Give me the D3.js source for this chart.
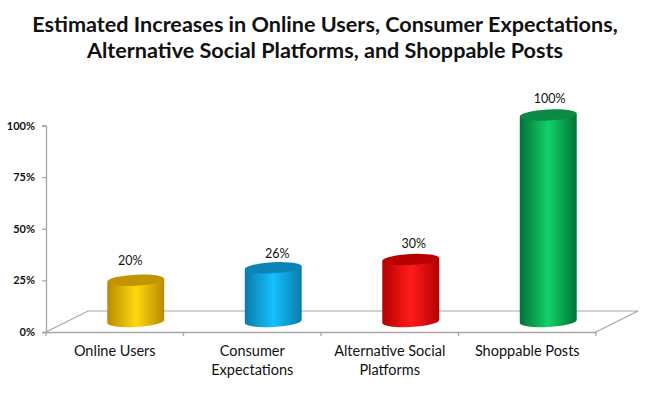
<!DOCTYPE html>
<html lang="en">
<head>
<meta charset="utf-8">
<script src="https://d3js.org/d3.v7.min.js"></script>
<style>
  html, body { margin: 0; padding: 0; background: #fff; }
  text { font-family: Lato, "Open Sans", sans-serif; fill: #111; }
</style>
</head>
<body>
<script>
// Data
const categories = ["Online Users", "Consumer Expectations", "Alternative Social Platforms", "Shoppable Posts"];
const categoryLines = [["Online Users"], ["Consumer", "Expectations"], ["Alternative Social", "Platforms"], ["Shoppable Posts"]];
const values = [20, 26, 30, 100];
const valueLabels = ["20%", "26%", "30%", "100%"];
const yTicks = [0, 25, 50, 75, 100];
const titleLines = ["Estimated Increases in Online Users, Consumer Expectations,", "Alternative Social Platforms, and Shoppable Posts"];

// Colours: edge, middle, top cap
const palette = [
  ["#b88a00", "#ffd90c", "#c29500"],
  ["#0b7ba8", "#12c2ff", "#0a84b6"],
  ["#b50000", "#ff1c1c", "#b80000"],
  ["#007236", "#12d169", "#0a8a45"]
];

// Layout
const width = 650, height = 394;
const plotLeft = 46, plotRight = 596, plotTop = 125.5, plotBottom = 332;
const depthX = 42, depthY = 21;
const rx = 28.5, ry = 5.5, tilt = 3;
const labelNudge = [[-5.5, -20], [4, -14.5], [3, -16], [1.5, -16.5]];

const svg = d3.select("body").append("svg")
  .attr("width", width)
  .attr("height", height)
  .style("display", "block");

const x = d3.scaleBand().domain(categories).range([plotLeft, plotRight]);
const y = d3.scaleLinear().domain([0, 100]).range([plotBottom, plotTop]);

// Title
svg.append("g").selectAll("text")
  .data(titleLines)
  .enter().append("text")
  .attr("x", 325)
  .attr("y", (d, i) => 32 + i * 25.5)
  .attr("text-anchor", "middle")
  .style("font-size", "21.6px")
  .style("font-weight", 700)
  .text(d => d);

// Floor
svg.append("path")
  .attr("d", d3.line()([
    [plotLeft, plotBottom],
    [plotLeft + depthX, plotBottom - depthY],
    [plotRight + depthX, plotBottom - depthY],
    [plotRight, plotBottom]
  ]))
  .attr("fill", "none")
  .attr("stroke", "#a6a6a6")
  .attr("stroke-width", 1.2);

// Axes
const yAxis = svg.append("g")
  .attr("transform", `translate(${plotLeft},0)`)
  .call(d3.axisLeft(y).tickValues(yTicks).tickFormat(d => d + "%").tickSize(4).tickPadding(7));
yAxis.selectAll("text").style("font-size", "11px").style("font-weight", 700);

const xAxis = svg.append("g")
  .attr("transform", `translate(0,${plotBottom})`)
  .call(d3.axisBottom(x).tickValues([]).tickSize(0));
xAxis.selectAll(".boundary")
  .data(d3.range(categories.length + 1))
  .enter().append("line")
  .attr("class", "boundary")
  .attr("x1", i => plotLeft + i * x.step())
  .attr("x2", i => plotLeft + i * x.step())
  .attr("y1", 0)
  .attr("y2", 4);

svg.selectAll(".domain, .tick line, .boundary")
  .attr("stroke", "#a6a6a6")
  .attr("stroke-width", 1.3);

// Category labels
const catLabels = svg.append("g").selectAll("text")
  .data(categories)
  .enter().append("text")
  .attr("text-anchor", "middle")
  .style("font-size", "14.5px");
catLabels.selectAll("tspan")
  .data((d, i) => categoryLines[i].map(line => ({ line, c: d })))
  .enter().append("tspan")
  .attr("x", d => x(d.c) + x.bandwidth() / 2)
  .attr("y", (d, i) => 356 + i * 19)
  .text(d => d.line);

// Gradients
const defs = svg.append("defs");
palette.forEach((p, i) => {
  const g = defs.append("linearGradient").attr("id", "cyl" + i);
  [[0, p[0]], [0.5, p[1]], [1, p[0]]].forEach(s => {
    g.append("stop").attr("offset", s[0]).attr("stop-color", s[1]);
  });
});

// Cylinders
const dx = rx * Math.cos(tilt * Math.PI / 180);
const dy = rx * Math.sin(tilt * Math.PI / 180);
const centerX = d => x(d) + x.bandwidth() / 2 + depthX / 2;
const baseY = y(0) - depthY / 2;

const bars = svg.append("g").selectAll("g")
  .data(categories)
  .enter().append("g");

bars.append("path")
  .attr("fill", (d, i) => `url(#cyl${i})`)
  .attr("d", (d, i) => {
    const cx = centerX(d), ty = y(values[i]) - depthY / 2;
    return `M${cx - dx},${ty + dy}L${cx - dx},${baseY + dy}`
      + `A${rx},${ry} ${-tilt} 0 0 ${cx + dx},${baseY - dy}`
      + `L${cx + dx},${ty - dy}Z`;
  });

bars.append("ellipse")
  .attr("rx", rx)
  .attr("ry", ry)
  .attr("fill", (d, i) => palette[i][2])
  .attr("transform", (d, i) => `translate(${centerX(d)},${y(values[i]) - depthY / 2}) rotate(${-tilt})`);

// Value labels
svg.append("g").selectAll("text")
  .data(categories)
  .enter().append("text")
  .attr("x", (d, i) => centerX(d) + labelNudge[i][0])
  .attr("y", (d, i) => y(values[i]) - depthY / 2 + labelNudge[i][1])
  .attr("dy", "0.35em")
  .attr("text-anchor", "middle")
  .style("font-size", "12.5px")
  .text((d, i) => valueLabels[i]);
</script>
</body>
</html>
